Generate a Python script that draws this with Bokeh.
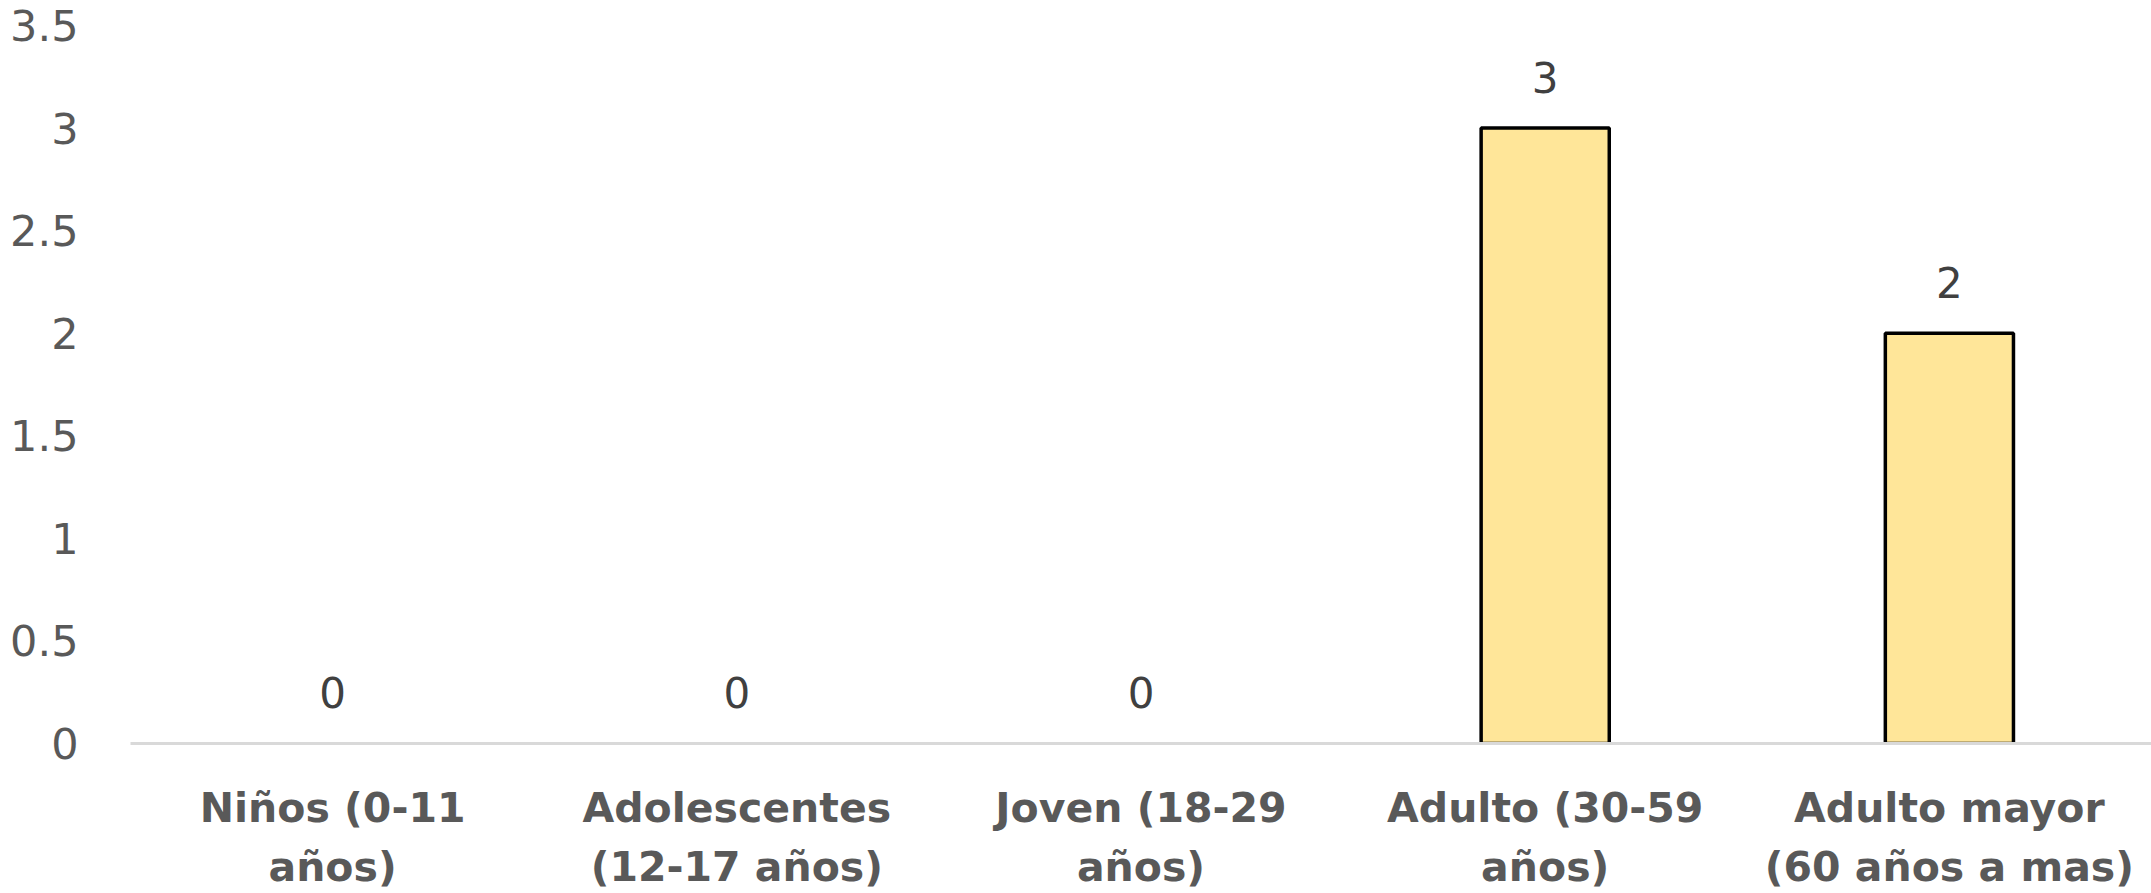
from bokeh.plotting import figure
from bokeh.models import ColumnDataSource, CategoricalAxis, Range1d, FixedTicker, CustomJSTickFormatter
from bokeh.core.properties import value
from bokeh.embed import file_html
from bokeh.resources import INLINE

categories = ["Niños (0-11 años)", "Adolescentes (12-17 años)", "Joven (18-29 años)",
              "Adulto (30-59 años)", "Adulto mayor (60 años a mas)"]
label_line1 = ["Niños (0-11", "Adolescentes", "Joven (18-29", "Adulto (30-59", "Adulto mayor"]
label_line2 = ["años)", "(12-17 años)", "años)", "años)", "(60 años a mas)"]
values = [0, 0, 0, 3, 2]
y_ticks = [0, 0.5, 1, 1.5, 2, 2.5, 3, 3.5]

src = ColumnDataSource(dict(cat=categories, val=values, lab=[str(v) for v in values],
                            outline=[1.0 if v > 0 else 0.0 for v in values]))

p = figure(x_range=categories, width=2151, height=893, output_backend="svg",
           toolbar_location=None, min_border_left=130, min_border_right=0,
           min_border_top=25, min_border_bottom=149)
p.y_range = Range1d(0, 3.5)
p.outline_line_color = None
p.xgrid.grid_line_color = None
p.ygrid.grid_line_color = None

p.vbar(x="cat", top="val", width=0.317, source=src, fill_color="#FFE699",
       line_color="black", line_width=3.5, line_alpha="outline")

p.text(x="cat", y="val", text="lab", source=src, text_align="center",
       text_baseline="middle", y_offset=-51, text_font=value("DejaVu Sans"),
       text_font_size="42px", text_color="#404040")

# y axis
ya = p.yaxis[0]
ya.ticker = FixedTicker(ticks=y_ticks)
ya.axis_line_color = None
ya.major_tick_line_color = None
ya.minor_tick_line_color = None
ya.major_label_standoff = 46
ya.major_label_text_font = "DejaVu Sans"
ya.major_label_text_font_size = "43px"
ya.major_label_text_color = "#595959"

# x axis (first line of labels)
xa = p.xaxis[0]
xa.axis_line_color = "#D9D9D9"
xa.axis_line_width = 3
xa.major_tick_line_color = None
xa.minor_tick_line_color = None
xa.formatter = CustomJSTickFormatter(args=dict(cats=categories, lines=label_line1),
                                     code="return lines[cats.indexOf(tick)];")
xa.major_label_standoff = 34
xa.major_label_text_font = "DejaVu Sans"
xa.major_label_text_font_style = "bold"
xa.major_label_text_font_size = "41px"
xa.major_label_text_color = "#595959"

# second line of labels
xa2 = CategoricalAxis()
xa2.axis_line_color = None
xa2.major_tick_line_color = None
xa2.minor_tick_line_color = None
xa2.formatter = CustomJSTickFormatter(args=dict(cats=categories, lines=label_line2),
                                      code="return lines[cats.indexOf(tick)];")
xa2.major_label_standoff = 2
xa2.major_label_text_font = "DejaVu Sans"
xa2.major_label_text_font_style = "bold"
xa2.major_label_text_font_size = "41px"
xa2.major_label_text_color = "#595959"
p.add_layout(xa2, "below")

open("out.html", "w").write(file_html(p, INLINE))
